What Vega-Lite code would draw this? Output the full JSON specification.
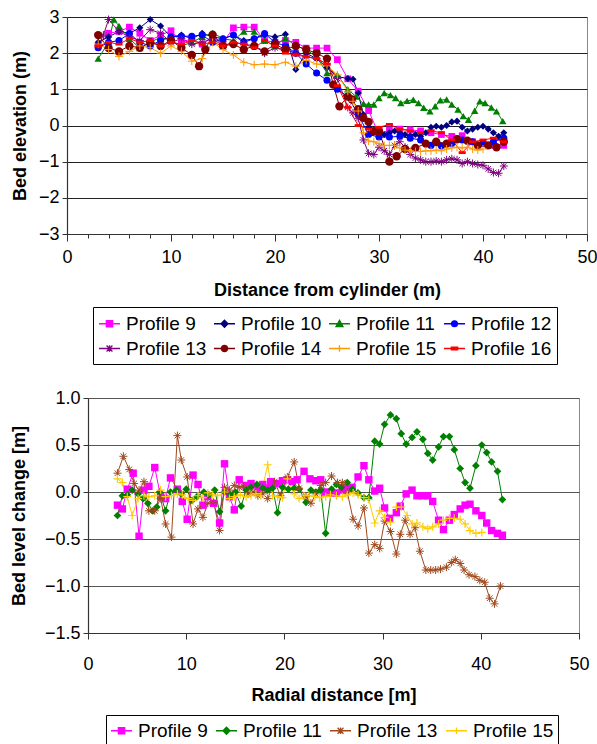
{
"$schema": "https://vega.github.io/schema/vega-lite/v6.json",
"background": "white",
"padding": {"left": 9, "top": 7, "right": 0, "bottom": 0},
"spacing": 23,
"resolve": {"scale": {"color": "independent", "fill": "independent", "stroke": "independent", "shape": "independent"}, "legend": {"color": "independent", "fill": "independent", "stroke": "independent", "shape": "independent"}},
"config": {
  "view": {"stroke": "#888", "strokeWidth": 1},
  "axis": {"labelFont": "Liberation Sans", "titleFont": "Liberation Sans", "labelColor": "black", "titleColor": "black", "labelFontSize": 18, "titleFontSize": 18, "titleFontWeight": "bold", "domainColor": "#333", "tickColor": "#333", "domainWidth": 1.2}
},
"datasets": {
"top": [
{"p":9,"x":3,"y":2.2},{"p":9,"x":4,"y":2.55},{"p":9,"x":5,"y":2.6},{"p":9,"x":6,"y":2.72},{"p":9,"x":7,"y":2.55},{"p":9,"x":8,"y":2.35},{"p":9,"x":9,"y":2.5},{"p":9,"x":10,"y":2.62},{"p":9,"x":11,"y":2.3},{"p":9,"x":12,"y":2.4},{"p":9,"x":13,"y":2.25},{"p":9,"x":14,"y":2.45},{"p":9,"x":15,"y":2.3},{"p":9,"x":16,"y":2.7},{"p":9,"x":17,"y":2.72},{"p":9,"x":18,"y":2.72},{"p":9,"x":19,"y":2.35},{"p":9,"x":20,"y":2.3},{"p":9,"x":21,"y":2.35},{"p":9,"x":22,"y":2.3},{"p":9,"x":23,"y":2.14},{"p":9,"x":24,"y":2.14},{"p":9,"x":25,"y":2.14},{"p":9,"x":26,"y":1.82},{"p":9,"x":27,"y":1.29},{"p":9,"x":28,"y":0.95},{"p":9,"x":29,"y":0.41},{"p":9,"x":30,"y":-0.25},{"p":9,"x":31,"y":-0.12},{"p":9,"x":32,"y":-0.1},{"p":9,"x":33,"y":-0.12},{"p":9,"x":34,"y":-0.15},{"p":9,"x":35,"y":-0.2},{"p":9,"x":36,"y":-0.25},{"p":9,"x":37,"y":-0.3},{"p":9,"x":38,"y":-0.28},{"p":9,"x":39,"y":-0.45},{"p":9,"x":40,"y":-0.5},{"p":9,"x":41,"y":-0.55},{"p":9,"x":42,"y":-0.55},
{"p":10,"x":3,"y":2.3},{"p":10,"x":4,"y":2.45},{"p":10,"x":5,"y":2.6},{"p":10,"x":6,"y":2.55},{"p":10,"x":7,"y":2.7},{"p":10,"x":8,"y":2.93},{"p":10,"x":9,"y":2.75},{"p":10,"x":10,"y":2.45},{"p":10,"x":11,"y":2.5},{"p":10,"x":12,"y":2.4},{"p":10,"x":13,"y":2.55},{"p":10,"x":14,"y":2.45},{"p":10,"x":15,"y":2.4},{"p":10,"x":16,"y":2.5},{"p":10,"x":17,"y":2.35},{"p":10,"x":18,"y":2.4},{"p":10,"x":19,"y":2.5},{"p":10,"x":20,"y":2.45},{"p":10,"x":21,"y":2.52},{"p":10,"x":22,"y":1.55},{"p":10,"x":23,"y":2.0},{"p":10,"x":24,"y":1.85},{"p":10,"x":25,"y":1.6},{"p":10,"x":26,"y":1.35},{"p":10,"x":27,"y":1.3},{"p":10,"x":27.5,"y":1.28},{"p":10,"x":28,"y":0.9},{"p":10,"x":28.5,"y":0.3},{"p":10,"x":29,"y":-0.05},{"p":10,"x":29.5,"y":-0.15},{"p":10,"x":30,"y":-0.2},{"p":10,"x":30.5,"y":-0.25},{"p":10,"x":31,"y":-0.2},{"p":10,"x":31.5,"y":-0.15},{"p":10,"x":32,"y":-0.2},{"p":10,"x":32.5,"y":-0.25},{"p":10,"x":33,"y":-0.28},{"p":10,"x":33.5,"y":-0.25},{"p":10,"x":34,"y":-0.3},{"p":10,"x":34.5,"y":-0.2},{"p":10,"x":35,"y":-0.05},{"p":10,"x":35.5,"y":-0.02},{"p":10,"x":36,"y":-0.05},{"p":10,"x":36.5,"y":0.0},{"p":10,"x":37,"y":0.1},{"p":10,"x":37.5,"y":0.12},{"p":10,"x":38,"y":-0.05},{"p":10,"x":38.5,"y":-0.15},{"p":10,"x":39,"y":-0.1},{"p":10,"x":39.5,"y":-0.05},{"p":10,"x":40,"y":-0.02},{"p":10,"x":40.5,"y":-0.1},{"p":10,"x":41,"y":-0.2},{"p":10,"x":41.5,"y":-0.3},{"p":10,"x":42,"y":-0.2},
{"p":11,"x":3,"y":1.85},{"p":11,"x":4,"y":2.3},{"p":11,"x":4.5,"y":2.93},{"p":11,"x":5,"y":2.75},{"p":11,"x":6,"y":2.4},{"p":11,"x":7,"y":2.14},{"p":11,"x":8,"y":2.3},{"p":11,"x":9,"y":2.44},{"p":11,"x":10,"y":2.35},{"p":11,"x":11,"y":2.2},{"p":11,"x":12,"y":2.3},{"p":11,"x":13,"y":2.45},{"p":11,"x":14,"y":2.56},{"p":11,"x":15,"y":2.4},{"p":11,"x":16,"y":2.35},{"p":11,"x":17,"y":2.6},{"p":11,"x":18,"y":2.6},{"p":11,"x":19,"y":2.35},{"p":11,"x":20,"y":2.2},{"p":11,"x":21,"y":2.42},{"p":11,"x":22,"y":2.2},{"p":11,"x":23,"y":2.1},{"p":11,"x":24,"y":1.9},{"p":11,"x":25,"y":1.45},{"p":11,"x":26,"y":1.4},{"p":11,"x":27,"y":1.0},{"p":11,"x":27.8,"y":0.8},{"p":11,"x":28.5,"y":0.6},{"p":11,"x":29,"y":0.58},{"p":11,"x":29.5,"y":0.58},{"p":11,"x":30,"y":0.76},{"p":11,"x":30.5,"y":0.9},{"p":11,"x":31.1,"y":0.84},{"p":11,"x":31.6,"y":0.76},{"p":11,"x":32.1,"y":0.62},{"p":11,"x":32.7,"y":0.68},{"p":11,"x":33.3,"y":0.71},{"p":11,"x":33.8,"y":0.62},{"p":11,"x":34.3,"y":0.49},{"p":11,"x":34.9,"y":0.39},{"p":11,"x":35.4,"y":0.53},{"p":11,"x":35.9,"y":0.7},{"p":11,"x":36.5,"y":0.72},{"p":11,"x":37,"y":0.58},{"p":11,"x":37.6,"y":0.44},{"p":11,"x":38.1,"y":0.26},{"p":11,"x":38.6,"y":0.16},{"p":11,"x":39.2,"y":0.41},{"p":11,"x":39.7,"y":0.67},{"p":11,"x":40.2,"y":0.62},{"p":11,"x":40.8,"y":0.5},{"p":11,"x":41.3,"y":0.39},{"p":11,"x":41.9,"y":0.12},
{"p":12,"x":3,"y":2.15},{"p":12,"x":4,"y":2.3},{"p":12,"x":5,"y":2.35},{"p":12,"x":6,"y":2.54},{"p":12,"x":7,"y":2.3},{"p":12,"x":8,"y":2.2},{"p":12,"x":9,"y":2.35},{"p":12,"x":10,"y":2.45},{"p":12,"x":11,"y":2.47},{"p":12,"x":12,"y":2.47},{"p":12,"x":13,"y":2.5},{"p":12,"x":14,"y":2.3},{"p":12,"x":15,"y":2.4},{"p":12,"x":16,"y":2.5},{"p":12,"x":17,"y":2.3},{"p":12,"x":18,"y":2.4},{"p":12,"x":19,"y":2.54},{"p":12,"x":20,"y":2.3},{"p":12,"x":21,"y":2.2},{"p":12,"x":22,"y":2.0},{"p":12,"x":23,"y":1.7},{"p":12,"x":24,"y":1.45},{"p":12,"x":25,"y":1.25},{"p":12,"x":26,"y":1.0},{"p":12,"x":27,"y":0.8},{"p":12,"x":28,"y":0.3},{"p":12,"x":29,"y":-0.25},{"p":12,"x":30,"y":-0.32},{"p":12,"x":31,"y":-0.32},{"p":12,"x":32,"y":-0.3},{"p":12,"x":33,"y":-0.35},{"p":12,"x":34,"y":-0.4},{"p":12,"x":35,"y":-0.55},{"p":12,"x":36,"y":-0.57},{"p":12,"x":37,"y":-0.5},{"p":12,"x":38,"y":-0.4},{"p":12,"x":39,"y":-0.45},{"p":12,"x":40,"y":-0.5},{"p":12,"x":41,"y":-0.45},{"p":12,"x":42,"y":-0.35},
{"p":13,"x":3,"y":2.2},{"p":13,"x":3.5,"y":2.5},{"p":13,"x":4,"y":2.93},{"p":13,"x":5,"y":2.6},{"p":13,"x":6,"y":2.45},{"p":13,"x":7,"y":2.35},{"p":13,"x":8,"y":2.65},{"p":13,"x":9,"y":2.55},{"p":13,"x":10,"y":2.3},{"p":13,"x":11,"y":2.4},{"p":13,"x":12,"y":2.25},{"p":13,"x":13,"y":2.3},{"p":13,"x":14,"y":2.4},{"p":13,"x":15,"y":2.2},{"p":13,"x":16,"y":2.3},{"p":13,"x":17,"y":2.25},{"p":13,"x":18,"y":2.2},{"p":13,"x":19,"y":2.0},{"p":13,"x":20,"y":2.15},{"p":13,"x":21,"y":2.1},{"p":13,"x":22,"y":2.0},{"p":13,"x":23,"y":1.9},{"p":13,"x":24,"y":1.85},{"p":13,"x":25,"y":1.7},{"p":13,"x":26,"y":1.3},{"p":13,"x":27,"y":0.5},{"p":13,"x":27.5,"y":0.35},{"p":13,"x":28,"y":0.2},{"p":13,"x":28.5,"y":-0.4},{"p":13,"x":29,"y":-0.77},{"p":13,"x":29.5,"y":-0.8},{"p":13,"x":30,"y":-0.6},{"p":13,"x":30.5,"y":-0.7},{"p":13,"x":31,"y":-0.8},{"p":13,"x":31.5,"y":-0.55},{"p":13,"x":32,"y":-0.45},{"p":13,"x":32.5,"y":-0.6},{"p":13,"x":33,"y":-0.8},{"p":13,"x":33.5,"y":-0.9},{"p":13,"x":34,"y":-0.95},{"p":13,"x":34.5,"y":-1.0},{"p":13,"x":35,"y":-1.0},{"p":13,"x":35.5,"y":-0.98},{"p":13,"x":36,"y":-1.0},{"p":13,"x":36.5,"y":-0.95},{"p":13,"x":37,"y":-0.92},{"p":13,"x":37.5,"y":-0.95},{"p":13,"x":38,"y":-1.05},{"p":13,"x":38.5,"y":-1.0},{"p":13,"x":39,"y":-1.05},{"p":13,"x":39.5,"y":-1.08},{"p":13,"x":40,"y":-1.1},{"p":13,"x":40.5,"y":-1.2},{"p":13,"x":41,"y":-1.3},{"p":13,"x":41.5,"y":-1.32},{"p":13,"x":42,"y":-1.12},
{"p":14,"x":3,"y":2.5},{"p":14,"x":4,"y":2.14},{"p":14,"x":5,"y":2.05},{"p":14,"x":6,"y":2.2},{"p":14,"x":7,"y":2.15},{"p":14,"x":8,"y":2.3},{"p":14,"x":9,"y":2.2},{"p":14,"x":10,"y":2.35},{"p":14,"x":11,"y":2.15},{"p":14,"x":12,"y":1.95},{"p":14,"x":12.7,"y":1.64},{"p":14,"x":13.3,"y":2.1},{"p":14,"x":14,"y":2.51},{"p":14,"x":15,"y":2.2},{"p":14,"x":16,"y":2.25},{"p":14,"x":17,"y":2.1},{"p":14,"x":18,"y":2.2},{"p":14,"x":19,"y":2.05},{"p":14,"x":20,"y":2.25},{"p":14,"x":21,"y":2.1},{"p":14,"x":22,"y":2.2},{"p":14,"x":23,"y":2.1},{"p":14,"x":24,"y":2.0},{"p":14,"x":25,"y":1.85},{"p":14,"x":25.6,"y":1.13},{"p":14,"x":26.2,"y":0.53},{"p":14,"x":27,"y":0.8},{"p":14,"x":27.4,"y":0.72},{"p":14,"x":28,"y":0.45},{"p":14,"x":28.5,"y":0.21},{"p":14,"x":29,"y":0.1},{"p":14,"x":29.5,"y":-0.16},{"p":14,"x":30,"y":-0.16},{"p":14,"x":31,"y":-1.0},{"p":14,"x":31.7,"y":-0.85},{"p":14,"x":32.5,"y":-0.65},{"p":14,"x":33.5,"y":-0.62},{"p":14,"x":34.5,"y":-0.5},{"p":14,"x":35.5,"y":-0.45},{"p":14,"x":36.5,"y":-0.5},{"p":14,"x":37.5,"y":-0.38},{"p":14,"x":38.5,"y":-0.42},{"p":14,"x":39.5,"y":-0.55},{"p":14,"x":40.5,"y":-0.55},{"p":14,"x":41.3,"y":-0.6},{"p":14,"x":42,"y":-0.45},
{"p":15,"x":3,"y":2.25},{"p":15,"x":4,"y":2.1},{"p":15,"x":5,"y":1.91},{"p":15,"x":6,"y":2.05},{"p":15,"x":7,"y":2.2},{"p":15,"x":8,"y":2.15},{"p":15,"x":9,"y":2.0},{"p":15,"x":10,"y":2.2},{"p":15,"x":11,"y":2.05},{"p":15,"x":12,"y":1.78},{"p":15,"x":13,"y":1.85},{"p":15,"x":14,"y":2.3},{"p":15,"x":15,"y":2.1},{"p":15,"x":16,"y":1.95},{"p":15,"x":17,"y":1.75},{"p":15,"x":18,"y":1.68},{"p":15,"x":19,"y":1.7},{"p":15,"x":20,"y":1.68},{"p":15,"x":21,"y":1.75},{"p":15,"x":22,"y":1.64},{"p":15,"x":23,"y":1.8},{"p":15,"x":24,"y":1.7},{"p":15,"x":25,"y":1.65},{"p":15,"x":26,"y":1.4},{"p":15,"x":27,"y":0.95},{"p":15,"x":27.5,"y":0.67},{"p":15,"x":28,"y":0.4},{"p":15,"x":28.5,"y":-0.2},{"p":15,"x":29,"y":-0.43},{"p":15,"x":29.5,"y":-0.45},{"p":15,"x":30,"y":-0.5},{"p":15,"x":30.5,"y":-0.55},{"p":15,"x":31,"y":-0.55},{"p":15,"x":31.5,"y":-0.55},{"p":15,"x":32,"y":-0.62},{"p":15,"x":32.5,"y":-0.68},{"p":15,"x":33,"y":-0.7},{"p":15,"x":33.5,"y":-0.72},{"p":15,"x":34,"y":-0.72},{"p":15,"x":34.5,"y":-0.7},{"p":15,"x":35,"y":-0.7},{"p":15,"x":35.5,"y":-0.68},{"p":15,"x":36,"y":-0.7},{"p":15,"x":36.5,"y":-0.65},{"p":15,"x":37,"y":-0.62},{"p":15,"x":37.5,"y":-0.6},{"p":15,"x":38,"y":-0.62},{"p":15,"x":38.5,"y":-0.6},{"p":15,"x":39,"y":-0.65},{"p":15,"x":39.5,"y":-0.68},{"p":15,"x":40,"y":-0.65},
{"p":16,"x":3,"y":2.2},{"p":16,"x":4,"y":2.3},{"p":16,"x":5,"y":2.25},{"p":16,"x":6,"y":2.4},{"p":16,"x":7,"y":2.3},{"p":16,"x":8,"y":2.35},{"p":16,"x":9,"y":2.2},{"p":16,"x":10,"y":2.3},{"p":16,"x":11,"y":2.25},{"p":16,"x":12,"y":2.35},{"p":16,"x":13,"y":2.25},{"p":16,"x":14,"y":2.3},{"p":16,"x":15,"y":2.2},{"p":16,"x":16,"y":2.3},{"p":16,"x":17,"y":2.25},{"p":16,"x":18,"y":2.15},{"p":16,"x":19,"y":2.35},{"p":16,"x":20,"y":2.2},{"p":16,"x":21,"y":2.0},{"p":16,"x":22,"y":1.95},{"p":16,"x":23,"y":1.9},{"p":16,"x":24,"y":1.85},{"p":16,"x":25,"y":1.7},{"p":16,"x":26,"y":1.1},{"p":16,"x":27,"y":0.5},{"p":16,"x":28,"y":0.0},{"p":16,"x":29,"y":-0.1},{"p":16,"x":30,"y":-0.05},{"p":16,"x":31,"y":0.03},{"p":16,"x":32,"y":-0.1},{"p":16,"x":33,"y":-0.15},{"p":16,"x":34,"y":-0.2},{"p":16,"x":35,"y":-0.15},{"p":16,"x":36,"y":-0.2},{"p":16,"x":37,"y":-0.4},{"p":16,"x":38,"y":-0.75},{"p":16,"x":39,"y":-0.45},{"p":16,"x":40,"y":-0.4},{"p":16,"x":41,"y":-0.35},{"p":16,"x":42,"y":-0.45}
],
"bot": [
{"p":9,"x":3.0,"y":-0.14},{"p":9,"x":3.5,"y":-0.18},{"p":9,"x":4.0,"y":0.03},{"p":9,"x":4.6,"y":0.2},{"p":9,"x":5.2,"y":-0.47},{"p":9,"x":5.7,"y":0.02},{"p":9,"x":6.2,"y":0.06},{"p":9,"x":6.8,"y":0.26},{"p":9,"x":7.4,"y":-0.05},{"p":9,"x":7.9,"y":-0.07},{"p":9,"x":8.4,"y":0.15},{"p":9,"x":9.1,"y":0.03},{"p":9,"x":9.6,"y":-0.1},{"p":9,"x":10.1,"y":-0.29},{"p":9,"x":10.7,"y":0.18},{"p":9,"x":11.2,"y":0.08},{"p":9,"x":11.7,"y":-0.14},{"p":9,"x":12.2,"y":-0.05},{"p":9,"x":12.8,"y":-0.12},{"p":9,"x":13.4,"y":-0.33},{"p":9,"x":13.9,"y":0.3},{"p":9,"x":14.4,"y":-0.05},{"p":9,"x":14.9,"y":-0.19},{"p":9,"x":15.4,"y":0.13},{"p":9,"x":16.1,"y":0.07},{"p":9,"x":16.6,"y":0.09},{"p":9,"x":17.3,"y":0.04},{"p":9,"x":17.8,"y":0.08},{"p":9,"x":18.3,"y":0.04},{"p":9,"x":18.6,"y":0.11},{"p":9,"x":19.3,"y":0.09},{"p":9,"x":19.8,"y":0.12},{"p":9,"x":20.3,"y":0.13},{"p":9,"x":20.8,"y":0.11},{"p":9,"x":21.3,"y":0.13},{"p":9,"x":22.0,"y":0.22},{"p":9,"x":22.6,"y":0.14},{"p":9,"x":23.2,"y":0.12},{"p":9,"x":23.7,"y":0.13},{"p":9,"x":24.2,"y":0.0},{"p":9,"x":24.7,"y":-0.01},{"p":9,"x":25.3,"y":-0.01},{"p":9,"x":25.9,"y":0.02},{"p":9,"x":26.4,"y":0.04},{"p":9,"x":26.9,"y":0.05},{"p":9,"x":27.5,"y":0.16},{"p":9,"x":28.1,"y":0.28},{"p":9,"x":28.6,"y":0.13},{"p":9,"x":29.2,"y":0.01},{"p":9,"x":29.7,"y":0.04},{"p":9,"x":30.2,"y":-0.17},{"p":9,"x":30.7,"y":-0.28},{"p":9,"x":31.4,"y":-0.22},{"p":9,"x":31.8,"y":-0.15},{"p":9,"x":32.4,"y":-0.02},{"p":9,"x":33.0,"y":0.02},{"p":9,"x":33.5,"y":-0.04},{"p":9,"x":34.1,"y":-0.04},{"p":9,"x":34.6,"y":-0.04},{"p":9,"x":35.1,"y":-0.1},{"p":9,"x":35.7,"y":-0.3},{"p":9,"x":36.2,"y":-0.4},{"p":9,"x":36.8,"y":-0.3},{"p":9,"x":37.3,"y":-0.24},{"p":9,"x":37.9,"y":-0.18},{"p":9,"x":38.4,"y":-0.14},{"p":9,"x":38.9,"y":-0.13},{"p":9,"x":39.5,"y":-0.2},{"p":9,"x":40.1,"y":-0.25},{"p":9,"x":40.6,"y":-0.33},{"p":9,"x":41.1,"y":-0.41},{"p":9,"x":41.7,"y":-0.44},{"p":9,"x":42.2,"y":-0.46},
{"p":11,"x":3.0,"y":-0.25},{"p":11,"x":3.5,"y":-0.04},{"p":11,"x":4.0,"y":-0.03},{"p":11,"x":4.5,"y":0.02},{"p":11,"x":5.1,"y":-0.02},{"p":11,"x":5.6,"y":-0.07},{"p":11,"x":6.1,"y":-0.12},{"p":11,"x":6.6,"y":-0.2},{"p":11,"x":7.0,"y":-0.16},{"p":11,"x":7.3,"y":0.0},{"p":11,"x":7.9,"y":-0.2},{"p":11,"x":8.4,"y":0.0},{"p":11,"x":9.0,"y":0.02},{"p":11,"x":9.5,"y":-0.02},{"p":11,"x":10.0,"y":0.03},{"p":11,"x":10.6,"y":-0.09},{"p":11,"x":11.1,"y":-0.05},{"p":11,"x":11.8,"y":0.0},{"p":11,"x":12.3,"y":-0.03},{"p":11,"x":12.9,"y":0.02},{"p":11,"x":13.4,"y":-0.21},{"p":11,"x":13.9,"y":0.0},{"p":11,"x":14.5,"y":-0.03},{"p":11,"x":15.0,"y":0.0},{"p":11,"x":15.6,"y":-0.15},{"p":11,"x":16.1,"y":0.02},{"p":11,"x":16.6,"y":0.05},{"p":11,"x":17.2,"y":0.08},{"p":11,"x":17.8,"y":0.04},{"p":11,"x":18.3,"y":0.02},{"p":11,"x":18.8,"y":0.04},{"p":11,"x":19.3,"y":-0.22},{"p":11,"x":19.8,"y":0.05},{"p":11,"x":20.4,"y":0.03},{"p":11,"x":21.0,"y":0.04},{"p":11,"x":21.5,"y":0.03},{"p":11,"x":22.2,"y":-0.11},{"p":11,"x":22.7,"y":0.02},{"p":11,"x":23.2,"y":0.0},{"p":11,"x":23.7,"y":0.02},{"p":11,"x":24.2,"y":-0.44},{"p":11,"x":24.8,"y":0.03},{"p":11,"x":25.3,"y":0.08},{"p":11,"x":25.8,"y":0.05},{"p":11,"x":26.4,"y":0.1},{"p":11,"x":26.9,"y":0.03},{"p":11,"x":27.5,"y":-0.01},{"p":11,"x":28.1,"y":-0.06},{"p":11,"x":28.6,"y":-0.06},{"p":11,"x":29.2,"y":0.54},{"p":11,"x":29.7,"y":0.51},{"p":11,"x":30.2,"y":0.72},{"p":11,"x":30.8,"y":0.82},{"p":11,"x":31.4,"y":0.78},{"p":11,"x":31.9,"y":0.62},{"p":11,"x":32.4,"y":0.51},{"p":11,"x":33.0,"y":0.58},{"p":11,"x":33.5,"y":0.64},{"p":11,"x":34.1,"y":0.56},{"p":11,"x":34.6,"y":0.41},{"p":11,"x":35.1,"y":0.34},{"p":11,"x":35.7,"y":0.48},{"p":11,"x":36.2,"y":0.59},{"p":11,"x":36.8,"y":0.59},{"p":11,"x":37.3,"y":0.45},{"p":11,"x":37.9,"y":0.25},{"p":11,"x":38.4,"y":0.1},{"p":11,"x":38.9,"y":0.04},{"p":11,"x":39.5,"y":0.28},{"p":11,"x":40.1,"y":0.5},{"p":11,"x":40.6,"y":0.42},{"p":11,"x":41.1,"y":0.32},{"p":11,"x":41.7,"y":0.22},{"p":11,"x":42.2,"y":-0.08},
{"p":13,"x":3.0,"y":0.2},{"p":13,"x":3.6,"y":0.38},{"p":13,"x":4.2,"y":0.24},{"p":13,"x":4.7,"y":0.09},{"p":13,"x":5.2,"y":0.02},{"p":13,"x":5.7,"y":0.11},{"p":13,"x":6.2,"y":-0.2},{"p":13,"x":6.8,"y":-0.2},{"p":13,"x":7.4,"y":-0.07},{"p":13,"x":7.9,"y":-0.34},{"p":13,"x":8.5,"y":-0.48},{"p":13,"x":9.1,"y":0.6},{"p":13,"x":9.5,"y":0.34},{"p":13,"x":10.1,"y":0.16},{"p":13,"x":10.7,"y":-0.34},{"p":13,"x":11.2,"y":-0.18},{"p":13,"x":11.7,"y":-0.27},{"p":13,"x":12.2,"y":-0.12},{"p":13,"x":12.8,"y":-0.11},{"p":13,"x":13.4,"y":-0.41},{"p":13,"x":13.9,"y":0.05},{"p":13,"x":14.4,"y":0.02},{"p":13,"x":14.9,"y":0.07},{"p":13,"x":15.4,"y":0.05},{"p":13,"x":15.8,"y":0.06},{"p":13,"x":16.3,"y":-0.02},{"p":13,"x":16.8,"y":0.0},{"p":13,"x":17.3,"y":-0.04},{"p":13,"x":17.8,"y":-0.02},{"p":13,"x":18.3,"y":-0.07},{"p":13,"x":19.0,"y":0.11},{"p":13,"x":19.6,"y":-0.04},{"p":13,"x":20.3,"y":0.16},{"p":13,"x":21.0,"y":0.32},{"p":13,"x":21.5,"y":0.04},{"p":13,"x":22.2,"y":-0.05},{"p":13,"x":22.7,"y":-0.12},{"p":13,"x":23.2,"y":-0.02},{"p":13,"x":23.7,"y":0.07},{"p":13,"x":24.2,"y":0.1},{"p":13,"x":24.8,"y":0.17},{"p":13,"x":25.4,"y":0.1},{"p":13,"x":25.9,"y":0.1},{"p":13,"x":26.4,"y":0.0},{"p":13,"x":27.0,"y":-0.29},{"p":13,"x":27.5,"y":-0.36},{"p":13,"x":28.1,"y":-0.17},{"p":13,"x":28.6,"y":-0.65},{"p":13,"x":29.2,"y":-0.56},{"p":13,"x":29.7,"y":-0.6},{"p":13,"x":30.2,"y":-0.31},{"p":13,"x":30.8,"y":-0.42},{"p":13,"x":31.4,"y":-0.66},{"p":13,"x":31.8,"y":-0.45},{"p":13,"x":32.3,"y":-0.3},{"p":13,"x":32.8,"y":-0.45},{"p":13,"x":33.3,"y":-0.38},{"p":13,"x":33.8,"y":-0.63},{"p":13,"x":34.4,"y":-0.83},{"p":13,"x":34.9,"y":-0.83},{"p":13,"x":35.4,"y":-0.83},{"p":13,"x":35.9,"y":-0.82},{"p":13,"x":36.5,"y":-0.8},{"p":13,"x":37.0,"y":-0.75},{"p":13,"x":37.4,"y":-0.72},{"p":13,"x":37.9,"y":-0.76},{"p":13,"x":38.3,"y":-0.83},{"p":13,"x":38.8,"y":-0.88},{"p":13,"x":39.4,"y":-0.9},{"p":13,"x":39.9,"y":-0.94},{"p":13,"x":40.4,"y":-0.96},{"p":13,"x":40.9,"y":-1.13},{"p":13,"x":41.4,"y":-1.19},{"p":13,"x":42.0,"y":-1.0},
{"p":15,"x":3.0,"y":0.14},{"p":15,"x":3.5,"y":0.1},{"p":15,"x":4.0,"y":-0.05},{"p":15,"x":4.5,"y":-0.25},{"p":15,"x":5.1,"y":-0.07},{"p":15,"x":5.7,"y":-0.04},{"p":15,"x":6.2,"y":-0.05},{"p":15,"x":6.8,"y":-0.04},{"p":15,"x":7.4,"y":0.02},{"p":15,"x":7.9,"y":-0.05},{"p":15,"x":8.5,"y":-0.04},{"p":15,"x":9.1,"y":-0.02},{"p":15,"x":9.6,"y":-0.03},{"p":15,"x":10.2,"y":-0.07},{"p":15,"x":10.7,"y":-0.09},{"p":15,"x":11.2,"y":-0.04},{"p":15,"x":11.7,"y":-0.06},{"p":15,"x":12.2,"y":-0.01},{"p":15,"x":12.7,"y":-0.03},{"p":15,"x":13.2,"y":-0.04},{"p":15,"x":13.9,"y":0.0},{"p":15,"x":14.4,"y":-0.07},{"p":15,"x":14.9,"y":-0.05},{"p":15,"x":15.5,"y":-0.03},{"p":15,"x":16.1,"y":-0.05},{"p":15,"x":16.6,"y":-0.04},{"p":15,"x":17.1,"y":-0.02},{"p":15,"x":17.6,"y":-0.04},{"p":15,"x":18.3,"y":0.29},{"p":15,"x":18.8,"y":-0.04},{"p":15,"x":19.3,"y":-0.05},{"p":15,"x":19.8,"y":-0.06},{"p":15,"x":20.3,"y":0.14},{"p":15,"x":21.0,"y":-0.02},{"p":15,"x":21.5,"y":-0.07},{"p":15,"x":22.0,"y":-0.04},{"p":15,"x":22.5,"y":-0.04},{"p":15,"x":23.1,"y":-0.05},{"p":15,"x":23.6,"y":-0.06},{"p":15,"x":24.2,"y":-0.05},{"p":15,"x":24.7,"y":-0.03},{"p":15,"x":25.3,"y":-0.04},{"p":15,"x":25.9,"y":-0.05},{"p":15,"x":26.4,"y":-0.03},{"p":15,"x":27.0,"y":-0.01},{"p":15,"x":27.5,"y":-0.03},{"p":15,"x":28.1,"y":-0.06},{"p":15,"x":28.6,"y":-0.08},{"p":15,"x":29.2,"y":-0.33},{"p":15,"x":29.7,"y":-0.2},{"p":15,"x":30.2,"y":-0.27},{"p":15,"x":30.8,"y":-0.32},{"p":15,"x":31.4,"y":-0.16},{"p":15,"x":31.9,"y":-0.16},{"p":15,"x":32.5,"y":-0.25},{"p":15,"x":33.0,"y":-0.34},{"p":15,"x":33.5,"y":-0.33},{"p":15,"x":34.1,"y":-0.37},{"p":15,"x":34.6,"y":-0.39},{"p":15,"x":35.1,"y":-0.37},{"p":15,"x":35.7,"y":-0.34},{"p":15,"x":36.2,"y":-0.3},{"p":15,"x":36.8,"y":-0.28},{"p":15,"x":37.3,"y":-0.28},{"p":15,"x":37.9,"y":-0.29},{"p":15,"x":38.4,"y":-0.34},{"p":15,"x":38.9,"y":-0.41},{"p":15,"x":39.5,"y":-0.44},{"p":15,"x":40.1,"y":-0.43}
]
},
"vconcat": [
{
  "width": 520, "height": 217,
  "data": {"name": "top"},
  "encoding": {
    "x": {"field": "x", "type": "quantitative", "scale": {"domain": [0, 50], "nice": false, "zero": false},
      "axis": {"title": "Distance from cylinder (m)", "values": [0,2,4,6,8,10,12,14,16,18,20,22,24,26,28,30,32,34,36,38,40,42,44,46,48,50], "labelExpr": "datum.value % 10 == 0 ? datum.label : ''", "grid": false, "tickSize": {"condition": {"test": "datum.value % 10 == 0", "value": 7}, "value": 4}, "labelPadding": 7, "titlePadding": 15, "labelFlush": false, "labelOverlap": false}},
    "y": {"field": "y", "type": "quantitative", "scale": {"domain": [-3, 3], "nice": false},
      "axis": {"title": "Bed elevation (m)", "values": [-3,-2,-1,0,1,2,3], "grid": true, "gridColor": "#222", "gridWidth": 1, "tickSize": 5, "labelPadding": 3, "titlePadding": 9}}
  },
  "layer": [
    {"mark": {"type": "line", "strokeWidth": 1}, "encoding": {"color": {"field": "p", "type": "nominal", "scale": {"domain": [16,15,14,13,12,11,10,9], "range": ["#FF0000","#FF9900","#800000","#800080","#0000FF","#008000","#000080","#FF00FF"]}, "legend": null}, "detail": {"field": "p"}}},
    {"transform": [{"filter": "datum.p == 9"}], "mark": {"type": "point", "shape": "square", "filled": true, "size": 45, "color": "#FF00FF", "opacity": 1}},
    {"transform": [{"filter": "datum.p == 10"}], "mark": {"type": "point", "shape": "diamond", "filled": true, "size": 50, "color": "#000080", "opacity": 1}},
    {"transform": [{"filter": "datum.p == 11"}], "mark": {"type": "point", "shape": "triangle-up", "filled": true, "size": 55, "color": "#008000", "opacity": 1}},
    {"transform": [{"filter": "datum.p == 12"}], "mark": {"type": "point", "shape": "circle", "filled": true, "size": 50, "color": "#0000FF", "opacity": 1}},
    {"transform": [{"filter": "datum.p == 13"}], "mark": {"type": "point", "shape": "M-1,0H1M0,-1V1M-0.7,-0.7L0.7,0.7M-0.7,0.7L0.7,-0.7", "filled": false, "size": 64, "strokeWidth": 1, "color": "#800080", "opacity": 1}},
    {"transform": [{"filter": "datum.p == 14"}], "mark": {"type": "point", "shape": "circle", "filled": true, "size": 70, "color": "#800000", "opacity": 1}},
    {"transform": [{"filter": "datum.p == 15"}], "mark": {"type": "point", "shape": "M-1,0H1M0,-1V1", "filled": false, "size": 64, "strokeWidth": 1, "color": "#FF9900", "opacity": 1}},
    {"transform": [{"filter": "datum.p == 16"}], "mark": {"type": "point", "shape": "M-1,-0.4H1V0.4H-1Z", "filled": true, "size": 50, "color": "#FF0000", "opacity": 1}},
    {"mark": {"type": "point", "filled": true, "strokeWidth": 1.3, "opacity": 0},
     "encoding": {
       "fill": {"field": "p", "type": "nominal", "scale": {"domain": [9,10,11,12,13,14,15,16], "range": ["#FF00FF","#000080","#008000","#0000FF","#800080","#800000","#FF9900","#FF0000"]},
         "legend": {"title": null, "orient": "none", "legendX": 26, "legendY": 290, "direction": "horizontal", "columns": 4, "gridAlign": "all", "columnPadding": 4, "rowPadding": 3, "padding": 5, "strokeColor": "black", "fillColor": "white", "symbolSize": 441, "symbolStrokeWidth": 1.3, "symbolOpacity": 1, "labelFont": "Liberation Sans", "labelFontSize": 19, "labelColor": "black", "labelOffset": 5, "labelExpr": "'Profile ' + datum.label"}},
       "stroke": {"field": "p", "type": "nominal", "scale": {"domain": [9,10,11,12,13,14,15,16], "range": ["#FF00FF","#000080","#008000","#0000FF","#800080","#800000","#FF9900","#FF0000"]},
         "legend": {"title": null, "orient": "none", "legendX": 26, "legendY": 290, "direction": "horizontal", "columns": 4, "gridAlign": "all", "columnPadding": 4, "rowPadding": 3, "padding": 5, "strokeColor": "black", "fillColor": "white", "symbolSize": 441, "symbolStrokeWidth": 1.3, "symbolOpacity": 1, "labelFont": "Liberation Sans", "labelFontSize": 19, "labelColor": "black", "labelOffset": 5, "labelExpr": "'Profile ' + datum.label"}},
       "shape": {"field": "p", "type": "nominal", "scale": {"domain": [9,10,11,12,13,14,15,16], "range": [
           "M-1,0H1M-0.3,-0.3H0.3V0.3H-0.3Z",
           "M-1,0H1M0,-0.33L0.33,0L0,0.33L-0.33,0Z",
           "M-1,0H1M0,-0.32L0.33,0.26H-0.33Z",
           "M-1,0H1M-0.28,0A0.28,0.28 0 1,0 0.28,0A0.28,0.28 0 1,0 -0.28,0Z",
           "M-1,0H1M-0.28,-0.28L0.28,0.28M-0.28,0.28L0.28,-0.28M0,-0.32V0.32",
           "M-1,0H1M-0.3,0A0.3,0.3 0 1,0 0.3,0A0.3,0.3 0 1,0 -0.3,0Z",
           "M-1,0H1M0,-0.32V0.32",
           "M-1,0H1M-0.3,-0.13H0.3V0.13H-0.3Z"]},
         "legend": {"title": null, "orient": "none", "legendX": 26, "legendY": 290, "direction": "horizontal", "columns": 4, "gridAlign": "all", "columnPadding": 4, "rowPadding": 3, "padding": 5, "strokeColor": "black", "fillColor": "white", "symbolSize": 441, "symbolStrokeWidth": 1.3, "symbolOpacity": 1, "labelFont": "Liberation Sans", "labelFontSize": 19, "labelColor": "black", "labelOffset": 5, "labelExpr": "'Profile ' + datum.label"}}
     }}
  ]
},
{
  "bounds": "flush",
  "spacing": 10,
  "hconcat": [
    {"width": 11, "height": 10, "data": {"values": []}, "mark": {"type": "point", "opacity": 0}, "view": {"stroke": null}},
    {
      "width": 491, "height": 235,
      "data": {"name": "bot"},
      "encoding": {
        "x": {"field": "x", "type": "quantitative", "scale": {"domain": [0, 50], "nice": false, "zero": false},
          "axis": {"title": "Radial distance [m]", "values": [0,10,20,30,40,50], "grid": false, "tickSize": 6, "labelPadding": 16, "titlePadding": 13, "labelFlush": false}},
        "y": {"field": "y", "type": "quantitative", "scale": {"domain": [-1.5, 1], "nice": false},
          "axis": {"title": "Bed level change [m]", "values": [-1.5,-1,-0.5,0,0.5,1], "format": ".1f", "grid": true, "gridColor": "#555", "gridWidth": 1.2, "tickSize": 5, "labelPadding": 3, "titlePadding": 16}}
      },
      "layer": [
        {"mark": {"type": "line", "strokeWidth": 1}, "encoding": {"color": {"field": "p", "type": "nominal", "scale": {"domain": [15,13,11,9], "range": ["#FFCC00","#A0481C","#008000","#FF00FF"]}, "legend": null}, "detail": {"field": "p"}}},
        {"transform": [{"filter": "datum.p == 9"}], "mark": {"type": "point", "shape": "square", "filled": true, "size": 55, "color": "#FF00FF", "opacity": 1}},
        {"transform": [{"filter": "datum.p == 11"}], "mark": {"type": "point", "shape": "diamond", "filled": true, "size": 60, "color": "#008000", "opacity": 1}},
        {"transform": [{"filter": "datum.p == 13"}], "mark": {"type": "point", "shape": "M-1,0H1M0,-1V1M-0.7,-0.7L0.7,0.7M-0.7,0.7L0.7,-0.7", "filled": false, "size": 64, "strokeWidth": 1, "color": "#A0481C", "opacity": 1}},
        {"transform": [{"filter": "datum.p == 15"}], "mark": {"type": "point", "shape": "M-1,0H1M0,-1V1", "filled": false, "size": 64, "strokeWidth": 1.2, "color": "#FFCC00", "opacity": 1}},
        {"mark": {"type": "point", "filled": true, "strokeWidth": 1.3, "opacity": 0},
         "encoding": {
           "fill": {"field": "p", "type": "nominal", "scale": {"domain": [9,11,13,15], "range": ["#FF00FF","#008000","#A0481C","#FFCC00"]},
             "legend": {"title": null, "orient": "none", "legendX": 39, "legendY": 317, "direction": "horizontal", "columns": 4, "columnPadding": 5, "padding": 4, "strokeColor": "black", "fillColor": "white", "symbolSize": 441, "symbolStrokeWidth": 1.3, "symbolOpacity": 1, "labelFont": "Liberation Sans", "labelFontSize": 19, "labelColor": "black", "labelOffset": 5, "labelExpr": "'Profile ' + datum.label"}},
           "stroke": {"field": "p", "type": "nominal", "scale": {"domain": [9,11,13,15], "range": ["#FF00FF","#008000","#A0481C","#FFCC00"]},
             "legend": {"title": null, "orient": "none", "legendX": 39, "legendY": 317, "direction": "horizontal", "columns": 4, "columnPadding": 5, "padding": 4, "strokeColor": "black", "fillColor": "white", "symbolSize": 441, "symbolStrokeWidth": 1.3, "symbolOpacity": 1, "labelFont": "Liberation Sans", "labelFontSize": 19, "labelColor": "black", "labelOffset": 5, "labelExpr": "'Profile ' + datum.label"}},
           "shape": {"field": "p", "type": "nominal", "scale": {"domain": [9,11,13,15], "range": [
               "M-1,0H1M-0.3,-0.3H0.3V0.3H-0.3Z",
               "M-1,0H1M0,-0.33L0.33,0L0,0.33L-0.33,0Z",
               "M-1,0H1M-0.28,-0.28L0.28,0.28M-0.28,0.28L0.28,-0.28M0,-0.32V0.32",
               "M-1,0H1M0,-0.32V0.32"]},
             "legend": {"title": null, "orient": "none", "legendX": 39, "legendY": 317, "direction": "horizontal", "columns": 4, "columnPadding": 5, "padding": 4, "strokeColor": "black", "fillColor": "white", "symbolSize": 441, "symbolStrokeWidth": 1.3, "symbolOpacity": 1, "labelFont": "Liberation Sans", "labelFontSize": 19, "labelColor": "black", "labelOffset": 5, "labelExpr": "'Profile ' + datum.label"}}
         }}
      ]
    }
  ]
}
]
}
